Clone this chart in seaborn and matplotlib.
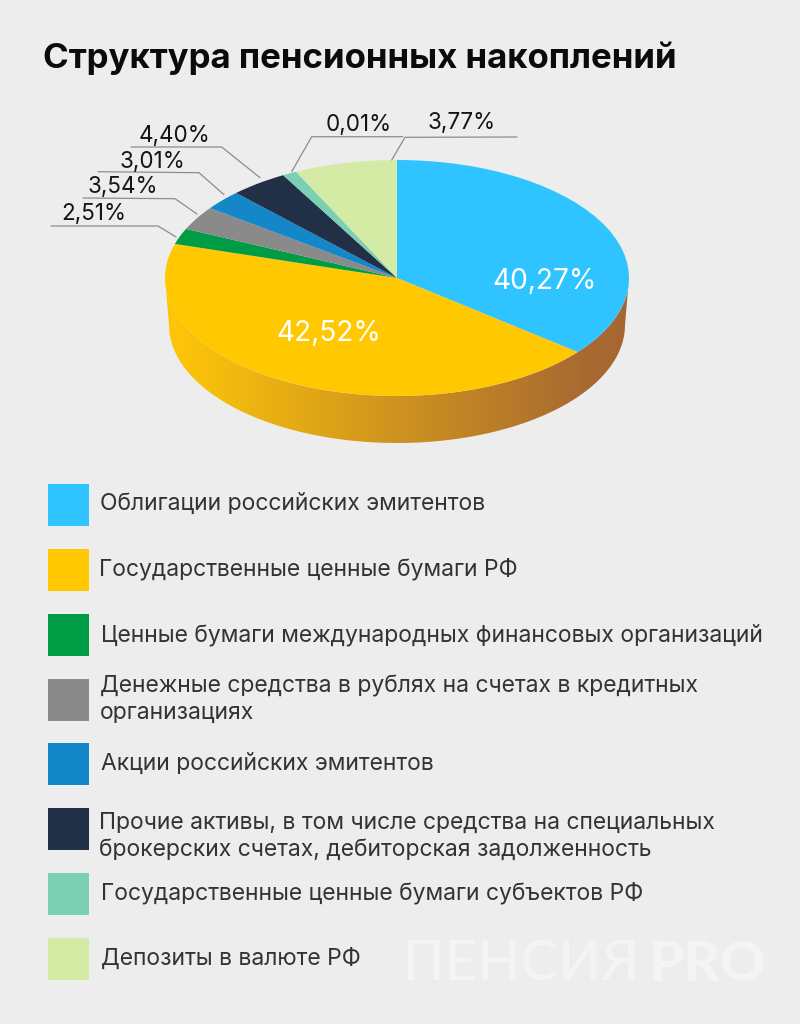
import numpy as np
import matplotlib
matplotlib.use("Agg")
import matplotlib.pyplot as plt
import seaborn as sns
from matplotlib.colors import LinearSegmentedColormap
from matplotlib.patches import PathPatch, Rectangle
from matplotlib.path import Path

# ---- data ----
categories = [
    "Облигации российских эмитентов",
    "Государственные ценные бумаги РФ",
    "Ценные бумаги международных финансовых организаций",
    "Денежные средства в рублях на счетах в кредитных\nорганизациях",
    "Акции российских эмитентов",
    "Прочие активы, в том числе средства на специальных\nброкерских счетах, дебиторская задолженность",
    "Государственные ценные бумаги субъектов РФ",
    "Депозиты в валюте РФ",
]
# wedge sizes as drawn in the picture (the drawn angles, degrees, differ from the printed labels)
drawn_shares = [128.9, 157.9, 7.8, 11.7, 9.8, 14.5, 3.6, 25.8]
value_labels = ["40,27%", "42,52%", "2,51%", "3,54%", "3,01%", "4,40%", "0,01%", "3,77%"]
colors = ["#2FC4FF", "#FFC800", "#009C45", "#8A8A8A", "#1487C9", "#212F47", "#7BCFB2", "#D4EBA6"]

BG = "#EDEDED"
sns.set_theme(style="white", rc={"figure.facecolor": BG, "axes.facecolor": "none", "savefig.facecolor": BG})
plt.rcParams["font.family"] = ["Inter", "DejaVu Sans"]
palette = sns.color_palette(colors)

fig = plt.figure(figsize=(8, 10.24), dpi=100, facecolor=BG)

# ---- pie geometry in pixels ----
W, H = 800, 1024
cx, cy, rx, ry = 397, 278, 232, 118
depth, rx_low = 47, 228
pie_ax = fig.add_axes([(cx - rx) / W, 1 - (cy + ry + depth) / H, 2 * rx / W, (2 * ry + depth) / H])
pie_ax.pie(drawn_shares, colors=palette, startangle=90, counterclock=False,
           wedgeprops={"linewidth": 0, "zorder": 3})
pie_ax.set_aspect("auto")
pie_ax.set_xlim(-1, 1)
pie_ax.set_ylim(-1 - depth / ry, 1)
pie_ax.axis("off")

# extruded side with horizontal gradient
t_low = np.linspace(np.pi, 2 * np.pi, 200)
t_up = np.linspace(2 * np.pi, np.pi, 200)
low = np.c_[np.cos(t_low) * rx_low / rx, np.sin(t_low) - depth / ry]
up = np.c_[np.cos(t_up), np.sin(t_up)]
side = np.vstack([low, up, up[-1:]])
codes = [Path.MOVETO] + [Path.LINETO] * (len(side) - 1)
clip = PathPatch(Path(side, codes), transform=pie_ax.transData, fc="none", ec="none")
pie_ax.add_patch(clip)
grad = LinearSegmentedColormap.from_list(
    "side", [(0, "#FFC608"), (0.08, "#F8C00C"), (0.5, "#CE931F"), (0.9, "#A96A31"), (1, "#A66632")])
im = pie_ax.imshow(np.linspace(0, 1, 512)[None, :], cmap=grad, extent=[-1, 1, -1 - depth / ry, 1],
                   aspect="auto", zorder=1, interpolation="bilinear")
im.set_clip_path(clip)
pie_ax.set_xlim(-1, 1)
pie_ax.set_ylim(-1 - depth / ry, 1)

# ---- overlay in pixel coordinates ----
ax = fig.add_axes([0, 0, 1, 1], facecolor="none")
ax.set_xlim(0, W)
ax.set_ylim(H, 0)
ax.axis("off")
px = 0.72

ax.text(43, 58, "Структура пенсионных накоплений", fontsize=34.8 * px, fontweight="bold",
        color="#0B0B0B", va="center", ha="left")

# inner labels
ax.text(545, 282, value_labels[0], color="white", fontsize=28 * px, ha="center", va="center")
ax.text(329, 333, value_labels[1], color="white", fontsize=28 * px, ha="center", va="center")

# outer labels with leader lines
leaders = [
    (2, [(176, 237), (158, 226), (51, 226)], (61, 214)),
    (3, [(197, 214), (175, 198.7), (83, 198)], (88, 187)),
    (4, [(224, 194.7), (199, 172.7), (98, 171.7)], (120, 162)),
    (5, [(260, 177.7), (221.7, 147), (131, 147)], (139, 136)),
    (6, [(291.7, 171.7), (311.7, 136.7), (402.7, 136.7)], (326, 125)),
    (7, [(391.7, 160), (405, 137.3), (517, 137)], (428, 123)),
]
for idx, pts, (tx, ty) in leaders:
    xs, ys = zip(*pts)
    ax.plot(xs, ys, color="#8C8C8C", lw=0.9, solid_joinstyle="miter")
    ax.text(tx, ty, value_labels[idx], color="#141414", fontsize=22.5 * px, ha="left", va="center")

# legend
swatch_top = [484, 549, 614, 679, 743, 808, 873, 938]
text_x = [100, 99, 101, 100, 101, 99, 101, 101]
text_y = [504, 569, 635, 700, 764, 836, 893, 959]
for top, tx, ty, col, name in zip(swatch_top, text_x, text_y, palette, categories):
    ax.add_patch(Rectangle((48, top), 41, 42, fc=col, ec="none"))
    ax.text(tx, ty, name, fontsize=22.9 * px, color="#333333", ha="left", va="center", linespacing=1.28)

# watermark
ax.text(403, 965, "ПЕНСИЯ", fontsize=56.5 * px, color="#F4F4F4", family="Lato", fontweight="medium", ha="left", va="center")
ax.text(649, 965, "PRO", fontsize=56.5 * px, color="#F4F4F4", family="Lato", fontweight="black", ha="left", va="center")
ax.add_patch(Rectangle((736, 942), 9, 11, fc=BG, ec="none"))
ax.add_patch(Rectangle((736, 975), 9, 11, fc=BG, ec="none"))

fig.savefig("out.png", dpi=100, facecolor=BG)
